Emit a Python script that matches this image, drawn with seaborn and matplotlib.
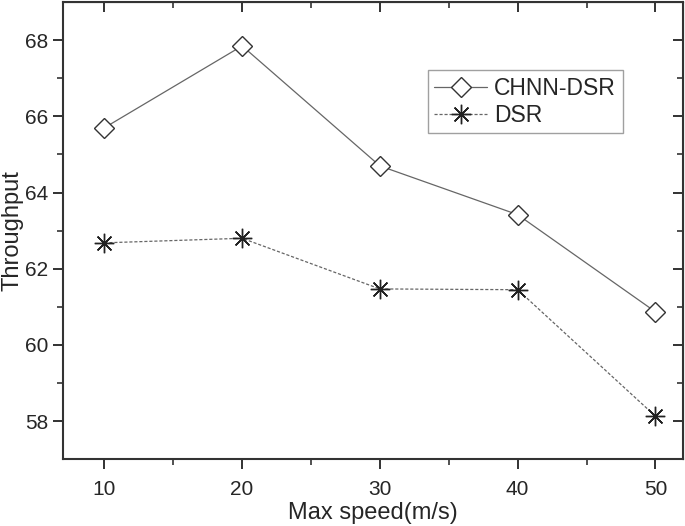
import seaborn as sns
import matplotlib.pyplot as plt
import pandas as pd

# Data
speeds = [10, 20, 30, 40, 50]
chnn_dsr = [65.7, 67.85, 64.7, 63.42, 60.87]
dsr = [62.68, 62.8, 61.47, 61.45, 58.13]

df = pd.DataFrame({"speed": speeds, "CHNN-DSR": chnn_dsr, "DSR": dsr})

sns.set_style("white")
plt.rcParams['font.family'] = ['Liberation Sans', 'DejaVu Sans']

fig = plt.figure(figsize=(6.85, 5.26), dpi=100)
ax = fig.add_axes([0.092, 0.127, 0.905, 0.869])

line_col = "#666666"
sns.lineplot(data=df, x="speed", y="CHNN-DSR", ax=ax, color=line_col, lw=0.9,
             marker="D", markersize=10.5, markerfacecolor="white",
             markeredgecolor="#333333", markeredgewidth=1.0, label="CHNN-DSR")
sns.lineplot(data=df, x="speed", y="DSR", ax=ax, color=line_col, lw=0.9,
             linestyle=(0, (2.5, 1.5)), marker=(8, 2, 0), markersize=14,
             markeredgecolor="#222222", markeredgewidth=1.0, label="DSR")

ax.set_xlim(7, 52)
ax.set_ylim(57, 69)
ax.set_xticks([10, 20, 30, 40, 50])
ax.set_yticks([58, 60, 62, 64, 66, 68])
ax.set_xticks([15, 25, 35, 45], minor=True)
ax.set_yticks([59, 61, 63, 65, 67], minor=True)
ax.tick_params(which="major", direction="out", length=7, width=1.3, labelsize=15,
               bottom=True, left=True, color="#222222")
ax.tick_params(axis="x", which="major", pad=8)
ax.tick_params(which="minor", direction="out", length=4, width=1.1,
               bottom=True, left=True, color="#222222")
for s in ax.spines.values():
    s.set_linewidth(1.5)
    s.set_color("#333333")

# mirrored ticks on top and right, pointing inward
top = ax.secondary_xaxis("top")
top.set_xticks([10, 20, 30, 40, 50])
top.set_xticks([15, 25, 35, 45], minor=True)
top.tick_params(which="major", direction="in", length=7, width=1.3, labeltop=False, color="#222222")
top.tick_params(which="minor", direction="in", length=4, width=1.1, labeltop=False, color="#222222")
right = ax.secondary_yaxis("right")
right.set_yticks([58, 60, 62, 64, 66, 68])
right.set_yticks([59, 61, 63, 65, 67], minor=True)
right.tick_params(which="major", direction="in", length=7, width=1.3, labelright=False, color="#222222")
right.tick_params(which="minor", direction="in", length=4, width=1.1, labelright=False, color="#222222")

ax.set_xlabel("Max speed(m/s)", fontsize=17, labelpad=2)
ax.set_ylabel("Throughput", fontsize=17)
ax.yaxis.set_label_coords(-0.063, 0.5)

leg = ax.legend(loc="upper left", bbox_to_anchor=(0.588, 0.851), fontsize=16.5,
                frameon=True, fancybox=False, edgecolor="#888888",
                handlelength=2.3, handletextpad=0.3, borderpad=0.3,
                labelspacing=0.15, borderaxespad=0)
leg.get_frame().set_linewidth(1.0)

fig.savefig("out.png", dpi=100)
